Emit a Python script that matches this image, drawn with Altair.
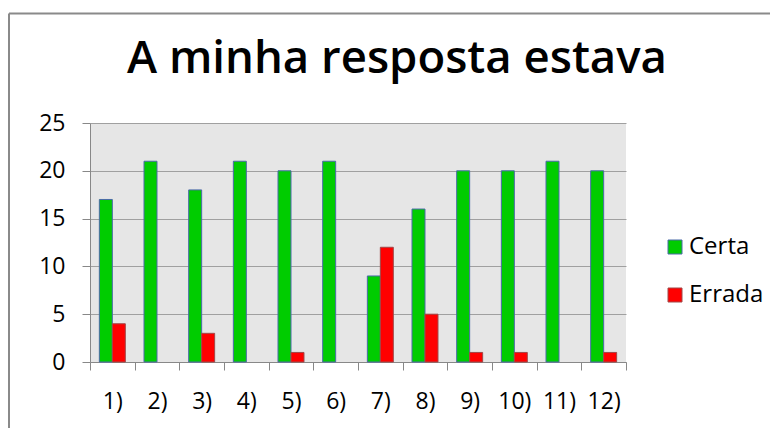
import altair as alt
import pandas as pd

perguntas = ["1)", "2)", "3)", "4)", "5)", "6)", "7)", "8)", "9)", "10)", "11)", "12)"]
certa = [17, 21, 18, 21, 20, 21, 9, 16, 20, 20, 21, 20]
errada = [4, 0, 3, 0, 1, 0, 12, 5, 1, 1, 0, 1]
series = ["Certa", "Errada"]
fill_colors = ["#00cc00", "#ff0000"]
stroke_colors = ["#4a6aa8", "#a04848"]
y_ticks = [0, 5, 10, 15, 20, 25]

rows = []
for p, c, e in zip(perguntas, certa, errada):
    rows.append({"pergunta": p, "serie": "Certa", "valor": c})
    rows.append({"pergunta": p, "serie": "Errada", "valor": e})
df = pd.DataFrame(rows)

FONT = "Open Sans"

leg = alt.Legend(
    title=None, orient="none", legendX=573, legendY=112,
    symbolType="square", symbolSize=196, symbolStrokeWidth=1,
    labelFont=FONT, labelFontSize=24, labelColor="#000000",
    labelOffset=2, rowPadding=24,
)

bars = alt.Chart(df).transform_filter("datum.valor > 0").mark_bar(strokeWidth=1).encode(
    x=alt.X("pergunta:N", sort=perguntas,
            scale=alt.Scale(paddingInner=0, paddingOuter=0),
            axis=alt.Axis(title=None, labelAngle=0, tickBand="extent",
                          labelFont=FONT, labelFontSize=23, labelColor="#000000",
                          tickSize=8, labelPadding=20, domainColor="#888888",
                          tickColor="#888888", grid=False)),
    xOffset=alt.XOffset("serie:N", scale=alt.Scale(domain=series, paddingInner=0, paddingOuter=0.72)),
    y=alt.Y("valor:Q", scale=alt.Scale(domain=[0, 25]),
            axis=alt.Axis(title=None, values=y_ticks, labelFont=FONT, labelFontSize=23,
                          labelColor="#000000", tickSize=8, labelPadding=17,
                          domainColor="#888888", tickColor="#888888",
                          grid=True, gridColor="#a0a0a0")),
    fill=alt.Fill("serie:N", scale=alt.Scale(domain=series, range=fill_colors), legend=leg),
    stroke=alt.Stroke("serie:N", scale=alt.Scale(domain=series, range=stroke_colors), legend=leg),
)

border_data = alt.Data(values=[{"k": 1}])
top_line = alt.Chart(border_data).mark_rule(color="#8a8a8a", strokeWidth=2).encode(
    x=alt.value(-81), x2=alt.value(900), y=alt.value(-109.5)
)
left_line = alt.Chart(border_data).mark_rule(color="#8a8a8a", strokeWidth=2).encode(
    x=alt.value(-81), y=alt.value(-109.5), y2=alt.value(600)
)

chart = alt.layer(bars, top_line, left_line).properties(
    width=536, height=239,
    title=alt.Title("A minha resposta estava", font=FONT, fontSize=45.5, fontWeight=600,
                    color="#000000", anchor="middle", dx=39, offset=0, dy=106,
                    baseline="alphabetic"),
    autosize=alt.AutoSizeParams(type="none"),
    padding={"left": 82, "top": 115, "right": 144, "bottom": 66},
).configure_view(fill="#e6e6e6", strokeWidth=0)

chart.save("out.html", embed_options={"renderer": "svg", "actions": False})
